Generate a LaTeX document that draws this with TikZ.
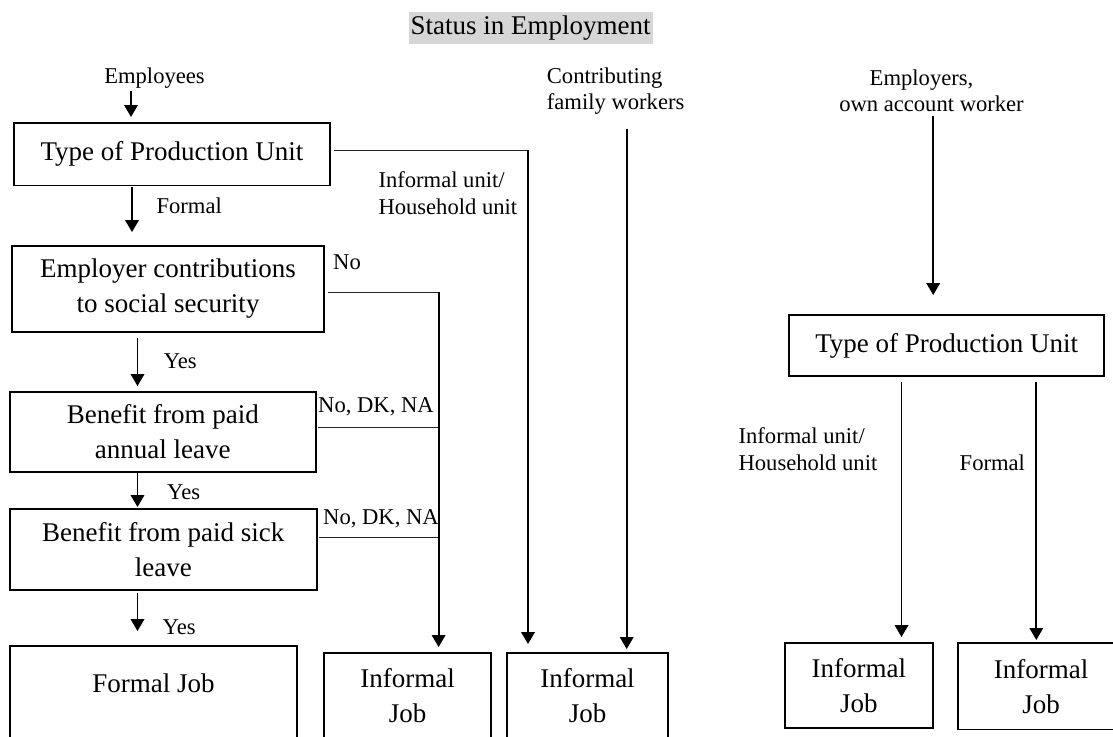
\documentclass[tikz,border=0pt]{standalone}
\usepackage{fontspec}
\setmainfont{Liberation Serif}
\usetikzlibrary{arrows.meta,calc}
\newcommand\bxfont{\fontsize{27pt}{35pt}\selectfont}
\newcommand\lbfont{\fontsize{22.6pt}{26.5pt}\selectfont}
\newcommand\ttlfont{\fontsize{27pt}{32pt}\selectfont}
\definecolor{ttlgray}{RGB}{214,214,214}
\begin{document}
\begin{tikzpicture}[x=1pt,y=-1pt,
  box/.style={draw, line width=1.9pt, inner sep=0pt, align=center, font=\bxfont},
  lbl/.style={inner sep=0pt, align=left, font=\lbfont},
  arr/.style={line width=1.9pt, -{Triangle[length=12pt,width=13.5pt]}},
  ln/.style={line width=1pt, black!85}]
\useasboundingbox (0,0) rectangle (1113,736);
\fill[white] (0,0) rectangle (1113,736);
\clip (0,0) rectangle (1113,736);

\node[fill=ttlgray, minimum width=244pt, minimum height=32pt, inner sep=0pt, font=\ttlfont] (title) at (530.5,28.3) {Status in Employment};

% boxes
\node[box, minimum width=316pt, minimum height=62.5pt] (b1) at (172,154.2) {Type of Production Unit};
\node[box, minimum width=312pt, minimum height=86pt] (b2) at (168,289) {Employer contributions\\to social security};
\node[box, minimum width=306.4pt, minimum height=80pt] (b3) at (162.8,432) {Benefit from paid\\annual leave};
\node[box, minimum width=307.4pt, minimum height=81pt] (b4) at (163.3,549.5) {Benefit from paid sick\\leave};
\node[box, minimum width=287pt, minimum height=94pt] (fj) at (153.5,693) {};
\node[font=\bxfont, inner sep=0pt] (fjt) at (153.6,683) {Formal Job};
\node[box, minimum width=166.7pt, minimum height=85pt] (ij1) at (407.7,695.5) {Informal\\Job};
\node[box, minimum width=161pt, minimum height=85pt] (ij2) at (587.5,695.5) {Informal\\Job};
\node[box, minimum width=314.7pt, minimum height=61pt] (bR) at (946.7,345.5) {Type of Production Unit};
\node[box, minimum width=148pt, minimum height=85pt] (ijR1) at (858.8,685.5) {Informal\\Job};
\node[box, minimum width=165.6pt, minimum height=86.5pt] (ijR2) at (1041.2,686.2) {Informal\\Job};

% labels
\node[lbl] (emp) at (154.5,78.3) {Employees};
\node[lbl, anchor=west] (lfor) at (156.4,206) {Formal};
\node[lbl, anchor=west] (linf) at (378.3,193) {Informal unit/\\Household unit};
\node[lbl, anchor=west] (lno) at (333,262) {No};
\node[lbl, anchor=west] (ly1) at (163.6,361) {Yes};
\node[lbl, anchor=west] (ly2) at (167,492) {Yes};
\node[lbl, anchor=west] (ly3) at (162.5,627) {Yes};
\node[lbl, anchor=west] (ln1) at (318,407) {No, DK, NA};
\node[lbl, anchor=west] (ln2) at (323,519) {No, DK, NA};
\node[lbl, anchor=west] (cfw) at (546.7,91) {Contributing\\family workers};
\node[lbl, align=center] (eoa) at (931.5,91) {Employers,\hspace*{20pt}\\own account worker};
\node[lbl, anchor=west] (rinf) at (738.4,449) {Informal unit/\\Household unit};
\node[lbl, anchor=west] (rfor) at (959.5,463) {Formal};

% coordinates
\coordinate (xa) at (131,0);
\coordinate (xb) at (132,0);
\coordinate (xc) at (137.5,0);
\coordinate (k1) at (528,150);
\coordinate (k2) at (438.6,292);
\coordinate (k3) at (437.5,427);
\coordinate (k4) at (437.5,537);
\coordinate (xd) at (626.7,0);
\coordinate (xe) at (933.2,0);
\coordinate (xf) at (901.5,0);
\coordinate (xg) at (1036.3,0);

% connectors
\draw[arr, shorten <=2pt, shorten >=5pt] (emp.south -| xa) -- (b1.north -| xa);
\draw[arr, shorten <=1pt, shorten >=13pt] (b1.south -| xb) -- (b2.north -| xb);
\draw[arr, shorten <=5pt, shorten >=5pt] (b2.south -| xc) -- (b3.north -| xc);
\draw[arr, shorten >=1pt] (b3.south -| xc) -- (b4.north -| xc);
\draw[arr, shorten <=2pt, shorten >=14pt] (b4.south -| xc) -- (fj.north -| xc);
\draw[ln] ($(b1.east |- k1)+(3,0)$) -- (k1);
\draw[arr, shorten >=8pt] (k1) -- (ij2.north -| k1);
\draw[ln] ($(b2.east |- k2)+(3.5,0)$) -- (k2);
\draw[arr, shorten >=5pt] (k2) -- (ij1.north -| k2);
\draw[ln] ($(b3.east |- k3)+(1,0)$) -- (k3);
\draw[ln] ($(b4.east |- k4)+(1,0)$) -- (k4);
\draw[arr, shorten <=14pt, shorten >=3pt] (cfw.south -| xd) -- (ij2.north -| xd);
\draw[arr, shorten <=4pt, shorten >=19pt] (eoa.south -| xe) -- (bR.north -| xe);
\draw[arr, shorten <=5pt, shorten >=5pt] (bR.south -| xf) -- (ijR1.north -| xf);
\draw[arr, shorten <=5pt, shorten >=2pt] (bR.south -| xg) -- (ijR2.north -| xg);
\end{tikzpicture}
\end{document}
